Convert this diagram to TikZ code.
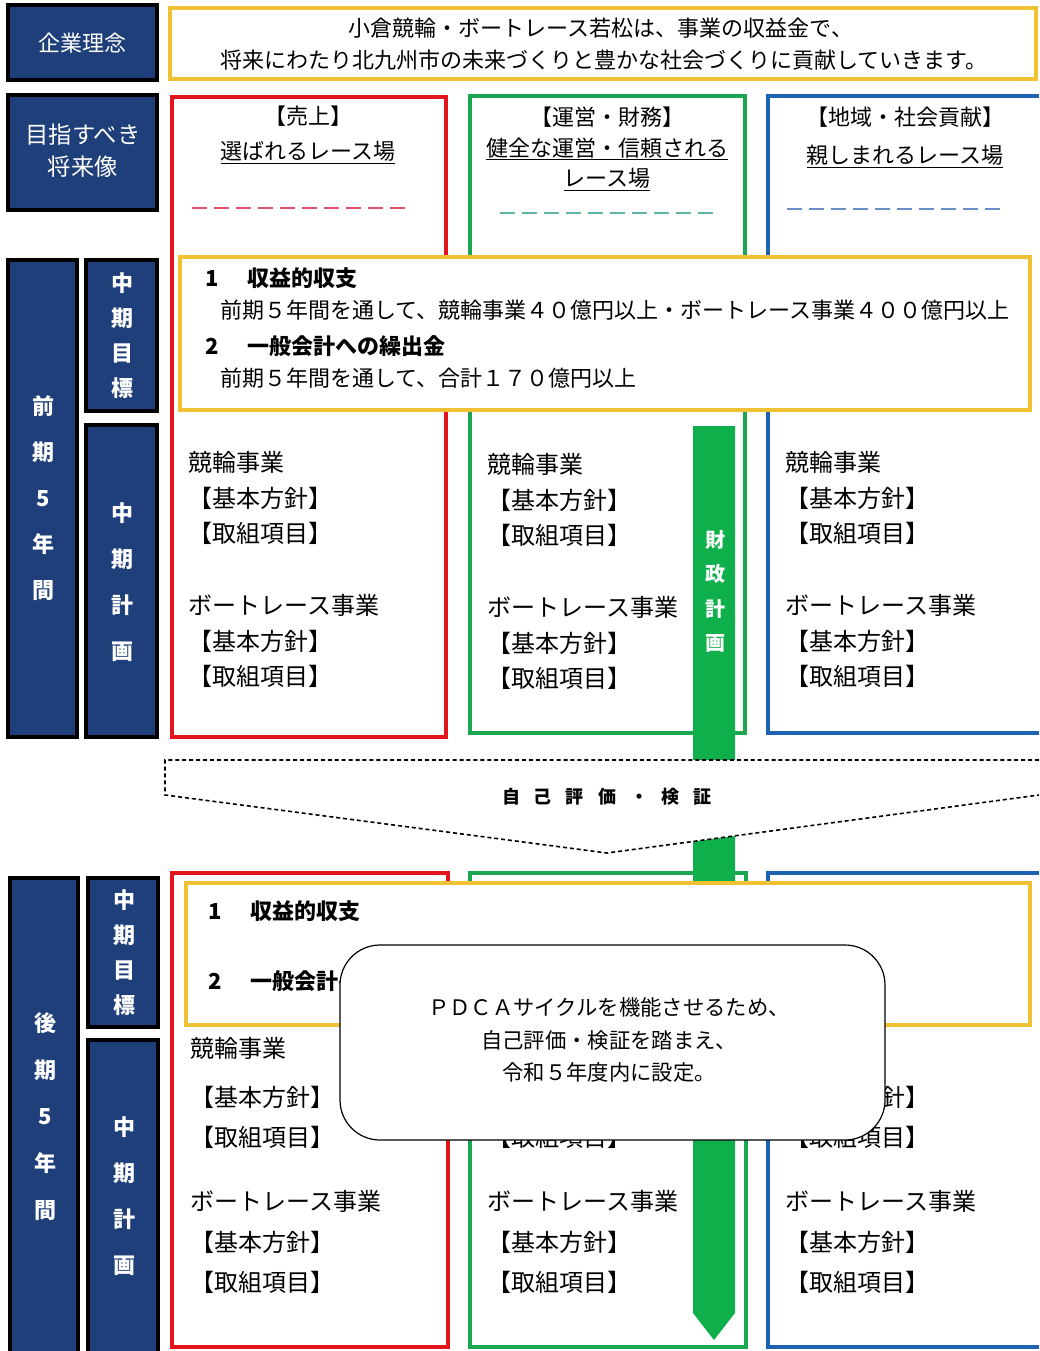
\documentclass[tikz,border=0pt]{standalone}
\usepackage{fontspec}
\setmainfont{Noto Sans CJK JP}
\definecolor{navy}{HTML}{1F3F7A}
\definecolor{kred}{HTML}{E3141B}
\definecolor{kgreen}{HTML}{1BA650}
\definecolor{kblue}{HTML}{1E63B2}
\definecolor{kyellow}{HTML}{F0C233}
\definecolor{barg}{HTML}{0FB04B}
\definecolor{dred}{HTML}{E0506A}
\definecolor{dgreen}{HTML}{5FB3A8}
\definecolor{dblue}{HTML}{6A8FC8}
\tikzset{
  navybox/.style={draw=black, line width=3pt, fill=navy},
  navylab/.style={text=white, inner sep=0pt, align=center},
  ybox/.style={draw=kyellow, line width=3pt, fill=white},
  cbox/.style={line width=3pt},
  titletext/.style={inner sep=0pt, font=\fontsize{16.5}{20}\selectfont},
  coltext/.style={anchor=west, inner sep=0pt, font=\fontsize{18}{20}\selectfont},
  goaltext/.style={anchor=west, inner sep=0pt, font=\fontsize{16.5}{20}\selectfont},
  tdash/.style={line width=1.6pt, dash pattern=on 11.25pt off 5.25pt},
}
\begin{document}
\begin{tikzpicture}[x=0.75pt,y=-0.75pt]
\useasboundingbox (0,0) rectangle (1039,1351);
\fill[white] (0,0) rectangle (1039,1351);

% ---------- top row ----------
\draw[navybox] (8,5) rectangle (157,80);
\node[navylab, font=\fontsize{16.5}{20}\selectfont] (rinen) at (82,43) {企業理念};
\draw[ybox] (170,8) rectangle (1036,79);
\node[titletext] (m1) at (601,28) {小倉競輪・ボートレース若松は、事業の収益金で、};
\node[titletext] (m2) at (604,60) {将来にわたり北九州市の未来づくりと豊かな社会づくりに貢献していきます。};

\draw[navybox] (8,95) rectangle (157,210);
\node[navylab, font=\fontsize{17.5}{24}\selectfont] (mezasu) at (83,151) {目指すべき\\将来像};

% colored boxes (top)
\draw[cbox, draw=kred] (172,97) rectangle (446,737);
\draw[cbox, draw=kgreen] (470,96) rectangle (745,733);
\draw[cbox, draw=kblue] (1039,96) -- (768,96) -- (768,733) -- (1039,733);

\node[titletext] (t1a) at (308,116) {【売上】};
\node[titletext] (t1b) at (308,153) {\underline{選ばれるレース場}};
\node[titletext] (t2a) at (607,117) {【運営・財務】};
\node[titletext] (t2b) at (607,149) {\underline{健全な運営・信頼される}};
\node[titletext] (t2c) at (607,180) {\underline{レース場}};
\node[titletext] (t3a) at (905,117) {【地域・社会貢献】};
\node[titletext] (t3b) at (905,157) {\underline{親しまれるレース場}};

\draw[tdash, draw=dred] (192,208) -- (405,208);
\draw[tdash, draw=dgreen] (500,213) -- (715,213);
\draw[tdash, draw=dblue] (787,209) -- (1003,209);

% left navy (first half)
\draw[navybox] (8,260) rectangle (77,737);
\node[navylab, font=\fontsize{16.5}{34.5}\selectfont\bfseries] (zenki) at (43,498) {前\\期\\5\\年\\間};
\draw[navybox] (86,260) rectangle (157,411);
\node[navylab, font=\fontsize{16.5}{26.25}\selectfont\bfseries] (mok1) at (122,335.5) {中\\期\\目\\標};
\draw[navybox] (86,425) rectangle (157,737);
\node[navylab, font=\fontsize{16.5}{34.5}\selectfont\bfseries] (kei1) at (122,582) {中\\期\\計\\画};

% goal box (top)
\draw[ybox] (180,257) rectangle (1030,410);
\node[goaltext, font=\fontsize{16.5}{20}\selectfont\bfseries] (g1) at (205,278) {1\hspace{1.3em}収益的収支};
\node[goaltext] (g2) at (220,310) {前期５年間を通して、競輪事業４０億円以上・ボートレース事業４００億円以上};
\node[goaltext, font=\fontsize{16.5}{20}\selectfont\bfseries] (g3) at (205,346) {2\hspace{1.3em}一般会計への繰出金};
\node[goaltext] (g4) at (220,378) {前期５年間を通して、合計１７０億円以上};

% column texts (top)
\foreach \c/\x/\dy in {r/188/0,g/487/2.5,b/785/0}{
  \node[coltext] (\c1) at (\x,{462+\dy}) {競輪事業};
  \node[coltext] (\c2) at (\x,{498+\dy}) {【基本方針】};
  \node[coltext] (\c3) at (\x,{533+\dy}) {【取組項目】};
  \node[coltext] (\c4) at (\x,{605+\dy}) {ボートレース事業};
  \node[coltext] (\c5) at (\x,{641+\dy}) {【基本方針】};
  \node[coltext] (\c6) at (\x,{676+\dy}) {【取組項目】};
}

% ---------- bottom colored boxes ----------
\draw[cbox, draw=kred] (172,873) rectangle (448,1347);
\draw[cbox, draw=kgreen] (470,873) rectangle (746,1347);
\draw[cbox, draw=kblue] (1039,873) -- (768,873) -- (768,1347) -- (1039,1347);

% left navy (second half)
\fill[navy] (10,878) rectangle (78,1351);
\draw[black, line width=3pt] (10,1351) -- (10,878) -- (78,878) -- (78,1351);
\node[navylab, font=\fontsize{16.5}{35}\selectfont\bfseries] (kouki) at (45,1116.5) {後\\期\\5\\年\\間};
\draw[navybox] (88,878) rectangle (158,1027);
\node[navylab, font=\fontsize{16.5}{26.25}\selectfont\bfseries] (mok2) at (124,952.5) {中\\期\\目\\標};
\fill[navy] (88,1040) rectangle (158,1351);
\draw[black, line width=3pt] (88,1351) -- (88,1040) -- (158,1040) -- (158,1351);
\node[navylab, font=\fontsize{16.5}{34.5}\selectfont\bfseries] (kei2) at (124,1196) {中\\期\\計\\画};

% ---------- green financial-plan arrow ----------
\fill[barg] (693,426) -- (735,426) -- (735,1313) -- (714,1340) -- (693,1313) -- cycle;
\node[navylab, font=\fontsize{15}{25.7}\selectfont\bfseries] (zaisei) at (715,591.5) {財\\政\\計\\画};

% ---------- self evaluation chevron ----------
\draw[fill=white, line width=1.2pt, dash pattern=on 3pt off 2.2pt]
  (1039,760) -- (165,760) -- (165,795) -- (607,853) -- (1039,795);
\node[inner sep=0pt, font=\fontsize{13.5}{16}\selectfont\bfseries] (hyoka) at (607,797)
  {自\hspace{10.5pt}己\hspace{10.5pt}評\hspace{10.5pt}価\hspace{10.5pt}・\hspace{10.5pt}検\hspace{10.5pt}証};

% ---------- goal box (bottom) ----------
\draw[ybox] (186,883) rectangle (1030,1025);
\node[goaltext, font=\fontsize{16.5}{20}\selectfont\bfseries] (h1) at (208,911) {1\hspace{1.3em}収益的収支};
\node[goaltext, font=\fontsize{16.5}{20}\selectfont\bfseries] (h2) at (208,981) {2\hspace{1.3em}一般会計への繰出金};

% column texts (bottom)
\node[coltext] (R1) at (190,1048) {競輪事業};
\node[coltext] (R2) at (190,1097) {【基本方針】};
\node[coltext] (R3) at (190,1137) {【取組項目】};
\node[coltext] (G3) at (487,1137) {【取組項目】};
\node[coltext] (B2) at (785,1097) {【基本方針】};
\node[coltext] (B3) at (785,1137) {【取組項目】};
\foreach \c/\x in {R/190,G/487,B/785}{
  \node[coltext] (\c4) at (\x,1201) {ボートレース事業};
  \node[coltext] (\c5) at (\x,1242) {【基本方針】};
  \node[coltext] (\c6) at (\x,1282) {【取組項目】};
}

% ---------- callout ----------
\draw[fill=white, draw=black, line width=0.9pt, rounded corners=30pt] (340,945) rectangle (885,1140);
\node[inner sep=0pt, align=center, font=\fontsize{16}{24.4}\selectfont] (pdca) at (609,1040)
  {ＰＤＣＡサイクルを機能させるため、\\自己評価・検証を踏まえ、\\令和５年度内に設定。};
\end{tikzpicture}
\end{document}
